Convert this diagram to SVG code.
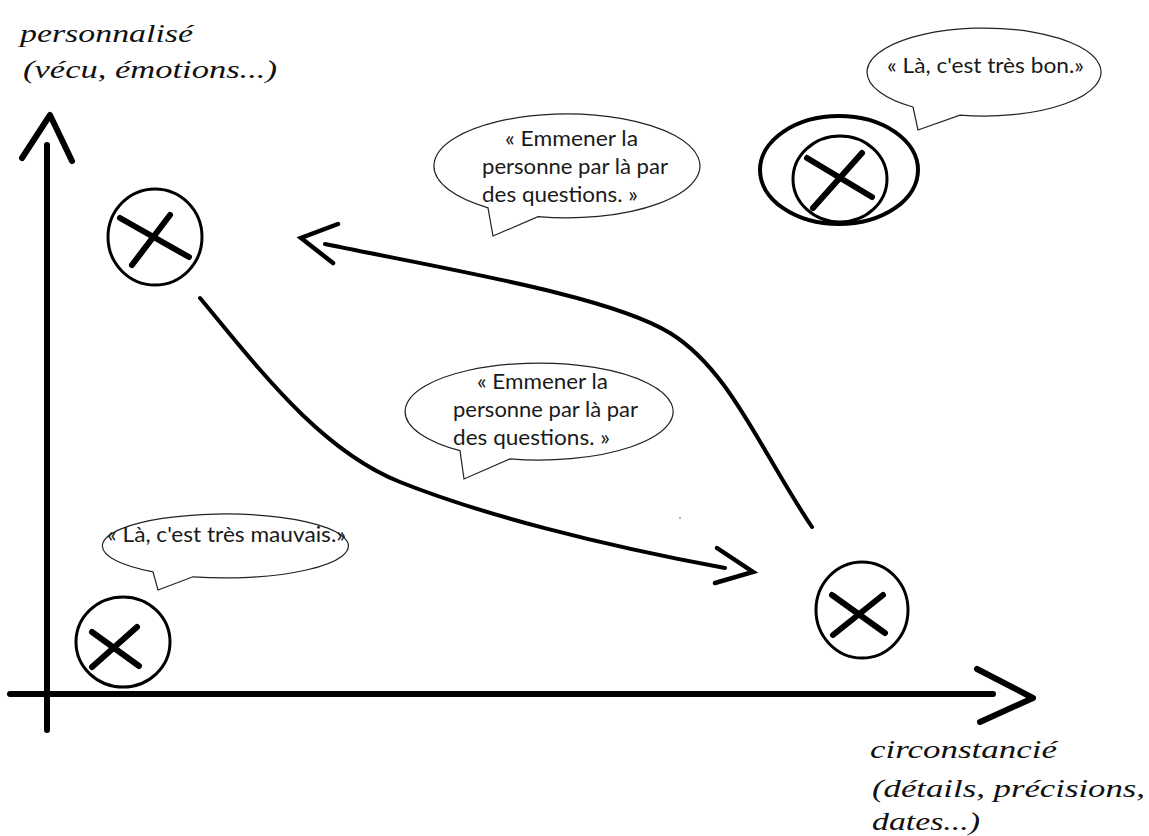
<svg xmlns="http://www.w3.org/2000/svg" width="1149" height="836" viewBox="0 0 1149 836">
<style>
.axis{stroke:#000;stroke-width:6;fill:none;stroke-linecap:round;stroke-linejoin:round}
.curve{stroke:#000;stroke-width:4;fill:none;stroke-linecap:round;stroke-linejoin:round}
.head{stroke:#000;stroke-width:4.5;fill:none;stroke-linecap:round;stroke-linejoin:miter}
.ring{stroke:#000;stroke-width:3;fill:none}
.cross{stroke:#000;stroke-width:6;stroke-linecap:round}
.bubble{stroke:#222;stroke-width:1.2;fill:#fff}
.bt{font-family:Lato,"Open Sans","Liberation Sans",sans-serif;font-size:21px;fill:#1a1a1a}
.hand{font-family:"Liberation Serif","DejaVu Serif",serif;font-style:italic;font-size:25px;fill:#111}
</style>
<rect width="1149" height="836" fill="#fff"/>
<g id="axes">
<path class="axis" d="M47,145 L47,730"/>
<path class="axis" d="M22,158 L50,115 L72,161"/>
<path class="axis" d="M10,694 L993,694"/>
<path class="axis" d="M977,669 L1033,698 L980,722"/>
</g>
<g id="label-y">
<text class="hand" x="20" y="42" textLength="173" lengthAdjust="spacingAndGlyphs">personnalisé</text>
<text class="hand" x="23" y="78" textLength="254" lengthAdjust="spacingAndGlyphs">(vécu, émotions...)</text>
</g>
<g id="label-x">
<text class="hand" x="870" y="758" textLength="187" lengthAdjust="spacingAndGlyphs">circonstancié</text>
<text class="hand" x="872" y="797" textLength="273" lengthAdjust="spacingAndGlyphs">(détails, précisions,</text>
<text class="hand" x="872" y="830" textLength="108" lengthAdjust="spacingAndGlyphs">dates...)</text>
</g>
<g id="connectors">
<path class="curve" d="M200,298 C260,370 320,450 400,482 C480,514 600,545 725,568"/>
<path class="head" d="M717,548 L753,572 L715,583"/>
<path class="curve" d="M812,527 C760,450 730,370 670,333 C610,296 450,270 325,244"/>
<path class="head" d="M338,224 L301,238 L333,263"/>
</g>
<g id="node-top-left">
<ellipse class="ring" cx="155" cy="237" rx="47" ry="48"/>
<line class="cross" x1="120" y1="218" x2="189" y2="257"/>
<line class="cross" x1="132" y1="265" x2="170" y2="215"/>
</g>
<g id="node-bottom-left">
<ellipse class="ring" cx="123" cy="642" rx="47" ry="45"/>
<line class="cross" x1="92" y1="632" x2="139" y2="666"/>
<line class="cross" x1="137" y1="627" x2="92" y2="667"/>
</g>
<g id="node-bottom-right">
<ellipse class="ring" cx="862" cy="610" rx="46" ry="48"/>
<line class="cross" x1="832" y1="595" x2="885" y2="633"/>
<line class="cross" x1="833" y1="635" x2="883" y2="595"/>
</g>
<g id="node-top-right">
<ellipse class="ring" cx="839" cy="170" rx="79" ry="54" style="stroke-width:4"/>
<ellipse class="ring" cx="840" cy="179" rx="47" ry="43"/>
<line class="cross" x1="807" y1="158" x2="872" y2="197"/>
<line class="cross" x1="813" y1="208" x2="862" y2="153"/>
</g>
<g id="bubble-top">
<path class="bubble" d="M488,207.8 L493,236 L538,216.7 A133,52 0 1 0 488,207.8 Z"/>
<text class="bt" x="505" y="146" textLength="133" lengthAdjust="spacingAndGlyphs">« Emmener la</text>
<text class="bt" x="482" y="174" textLength="186" lengthAdjust="spacingAndGlyphs">personne par là par</text>
<text class="bt" x="482" y="202" textLength="156" lengthAdjust="spacingAndGlyphs">des questions. »</text>
</g>
<g id="bubble-middle">
<path class="bubble" d="M460,450.7 L464,479 L510,458.9 A134,48.5 0 1 0 460,450.7 Z"/>
<text class="bt" x="477" y="389" textLength="131" lengthAdjust="spacingAndGlyphs">« Emmener la</text>
<text class="bt" x="453" y="417" textLength="185" lengthAdjust="spacingAndGlyphs">personne par là par</text>
<text class="bt" x="453" y="445" textLength="157" lengthAdjust="spacingAndGlyphs">des questions. »</text>
</g>
<g id="bubble-bottom-left">
<path class="bubble" d="M153,571.8 L158,590 L193,576.8 A123,32 0 1 0 153,571.8 Z"/>
<text class="bt" x="107" y="542" textLength="239" lengthAdjust="spacingAndGlyphs">« Là, c'est très mauvais.»</text>
</g>
<g id="bubble-top-right">
<path class="bubble" d="M913,107 L918,130 L960,115.1 A117,44 0 1 0 913,107 Z"/>
<text class="bt" x="887" y="73" textLength="197" lengthAdjust="spacingAndGlyphs">« Là, c'est très bon.»</text>
</g>
<circle cx="680" cy="518" r="1" fill="#999"/>
</svg>
